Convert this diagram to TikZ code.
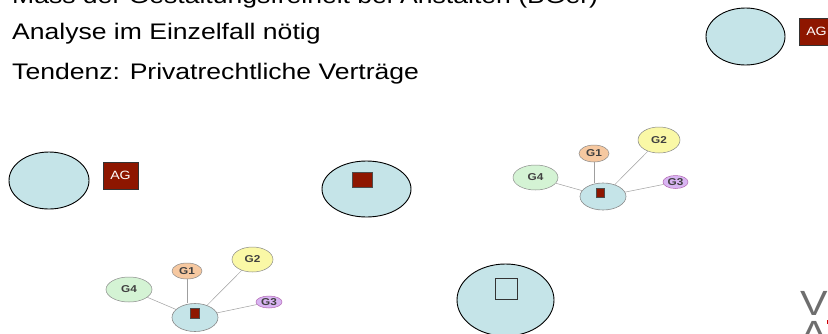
\documentclass[tikz,border=0pt]{standalone}
\usepackage{fontspec}
\setmainfont{Liberation Sans}[FakeStretch=1.18]
\usetikzlibrary{shapes.geometric}
\definecolor{cellblue}{HTML}{C5E4E8}
\definecolor{agred}{HTML}{8E1600}
\definecolor{gfour}{HTML}{D4F3D4}
\definecolor{gone}{HTML}{F6C8A0}
\definecolor{gtwo}{HTML}{FAF8A6}
\definecolor{gthree}{HTML}{D8B4F2}
\definecolor{gborder}{HTML}{8A8A8A}
\definecolor{logogray}{HTML}{6E6E6E}
\begin{document}
\begin{tikzpicture}[x=1pt,y=-1pt,
  blob/.style={ellipse, draw=black, line width=0.9pt, fill=cellblue, inner sep=0pt},
  agbox/.style={rectangle, draw=black!80, line width=0.8pt, fill=agred, text=white,
    font=\fontsize{12}{14}\selectfont, minimum width=35pt, minimum height=27pt, inner sep=0pt},
  gnode/.style={ellipse, draw=gborder, line width=0.5pt, inner sep=0pt,
    font=\fontsize{10}{12}\selectfont\bfseries, text=black!75},
  hub/.style={ellipse, draw=gborder, line width=0.6pt, fill=cellblue, inner sep=0pt},
  redsq/.style={rectangle, draw=black!70, fill=agred, inner sep=0pt, line width=0.6pt},
  emptysq/.style={rectangle, draw=black!80, inner sep=0pt, line width=0.9pt},
  link/.style={draw=gray!75, line width=0.5pt},
  bullettext/.style={anchor=base west, inner sep=0pt, font=\fontsize{22.5}{27}\selectfont}]
\useasboundingbox (0,0) rectangle (828,333);
\clip (0,0) rectangle (828,333);
\fill[white] (0,0) rectangle (828,333);

% text lines
\node[bullettext] (t1) at (12,3.5) {Mass der Gestaltungsfreiheit bei Anstalten (BGer)};
\node[bullettext] (t2) at (12,39.3) {Analyse im Einzelfall nötig};
\node[bullettext] (t3) at (12,79.3) {Tendenz: Privatrechtliche Verträge};

% top right
\node[blob, minimum width=79pt, minimum height=57pt] (e1) at (745.5,36.5) {};
\node[agbox] (ag1) at (816.5,31.5) {AG};

% row 2 left
\node[blob, minimum width=80pt, minimum height=57pt] (e2) at (49,180.5) {};
\node[agbox] (ag2) at (120.5,175.5) {AG};

% row 2 middle
\node[blob, minimum width=89pt, minimum height=56pt] (e3) at (366.5,189) {};
\node[redsq, minimum width=20pt, minimum height=15pt] (r3) at (362,179.5) {};

% graph top right
\node[hub, minimum width=46pt, minimum height=27pt] (h1) at (603,196.5) {};
\node[redsq, minimum width=8pt, minimum height=9pt] (hr1) at (600,192.5) {};
\node[gnode, fill=gfour, minimum width=45pt, minimum height=25pt] (a4) at (535.5,177.5) {G4};
\node[gnode, fill=gone, minimum width=30pt, minimum height=17pt] (a1) at (594,153.5) {G1};
\node[gnode, fill=gtwo, minimum width=42pt, minimum height=26pt] (a2) at (659,140) {G2};
\node[gnode, fill=gthree, draw=violet!60, minimum width=25pt, minimum height=13pt] (a3) at (675.5,182) {G3};
\draw[link] (a4) -- (h1);
\draw[link] (a1.south) -- (a1.south |- h1.north);
\draw[link] (a2) -- (h1);
\draw[link] (a3) -- (h1);

% graph bottom left
\node[hub, minimum width=46pt, minimum height=28pt] (h2) at (195,317.5) {};
\node[redsq, minimum width=9pt, minimum height=10pt] (hr2) at (194.5,313) {};
\node[gnode, fill=gfour, minimum width=46pt, minimum height=25pt] (b4) at (129,289.5) {G4};
\node[gnode, fill=gone, minimum width=30pt, minimum height=16pt] (b1) at (187,271) {G1};
\node[gnode, fill=gtwo, minimum width=41pt, minimum height=25pt] (b2) at (252.5,259.5) {G2};
\node[gnode, fill=gthree, draw=violet!60, minimum width=26pt, minimum height=12pt] (b3) at (269,302) {G3};
\draw[link] (b4) -- (h2);
\draw[link] (b1.south) -- (b1.south |- h2.north);
\draw[link] (b2) -- (h2);
\draw[link] (b3) -- (h2);

% bottom ellipse with empty square
\node[blob, minimum width=97pt, minimum height=72pt] (e4) at (505.5,300) {};
\node[emptysq, minimum width=22pt, minimum height=21pt] (s4) at (506,288.5) {};

% cropped logo
\node[anchor=base west, inner sep=0pt, text=logogray, font=\fontsize{35}{40}\selectfont] (logo1) at (800,315) {VS};
\node[anchor=base west, inner sep=0pt, text=logogray, font=\fontsize{35}{40}\selectfont] (logo2) at (800,345) {A};
\fill[red!80!black] (826.5,320) rectangle (828,324);
\end{tikzpicture}
\end{document}
